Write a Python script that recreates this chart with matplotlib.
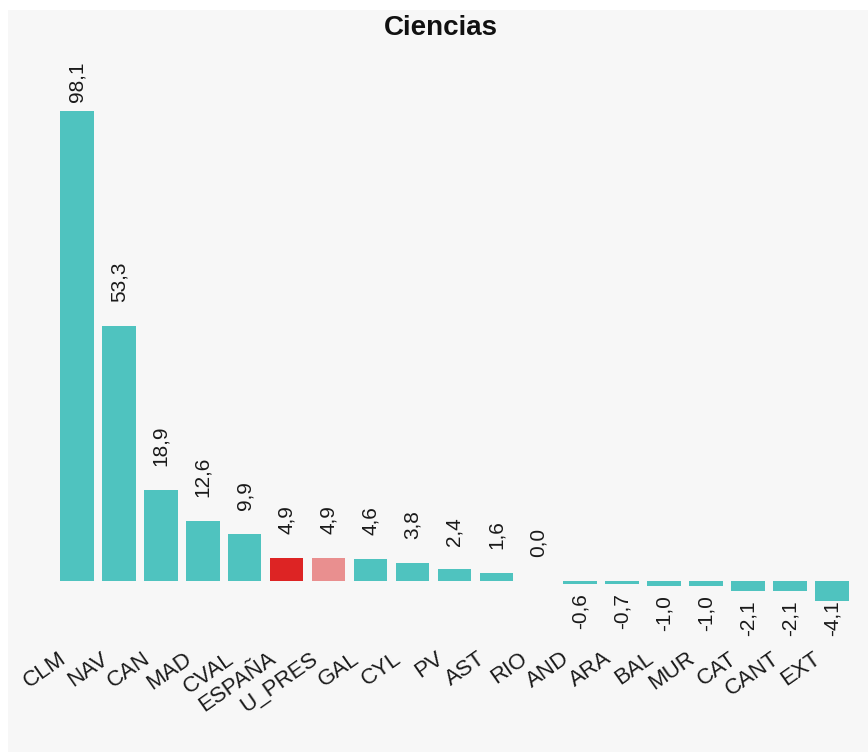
import matplotlib
matplotlib.use('Agg')
import matplotlib.pyplot as plt
from matplotlib.patches import Rectangle
from matplotlib.transforms import ScaledTranslation

plt.rcParams['font.family'] = ['Liberation Sans', 'DejaVu Sans']

regiones = ['CLM', 'NAV', 'CAN', 'MAD', 'CVAL', 'ESPAÑA', 'U_PRES', 'GAL', 'CYL', 'PV',
            'AST', 'RIO', 'AND', 'ARA', 'BAL', 'MUR', 'CAT', 'CANT', 'EXT']
valores = [98.1, 53.3, 18.9, 12.6, 9.9, 4.9, 4.9, 4.6, 3.8, 2.4,
           1.6, 0.0, -0.6, -0.7, -1.0, -1.0, -2.1, -2.1, -4.1]

teal = '#4fc3bf'
colores = []
for r in regiones:
    if r == 'ESPAÑA':
        colores.append('#dd2424')
    elif r == 'U_PRES':
        colores.append('#e98f8f')
    else:
        colores.append(teal)

W, H = 868, 752
fig = plt.figure(figsize=(W/100, H/100), dpi=100, facecolor='white')
fig.patches.append(Rectangle((8/W, 0), 1, 1 - 10/H, transform=fig.transFigure,
                             facecolor='#f7f7f7', edgecolor='none', zorder=-5))

ax_l, ax_r, ax_t, ax_b = 51.8, 857, 45, 630
ax = fig.add_axes([ax_l/W, 1 - ax_b/H, (ax_r-ax_l)/W, (ax_b-ax_t)/H])
ax.set_facecolor('none')
ax.set_zorder(2)

x = list(range(len(regiones)))
ax.bar(x, valores, width=0.8, color=colores)
ax.set_xlim(-0.6, len(regiones) - 0.4)
ymax = 98.1 + (111 - ax_t)/4.79
ymin = -(ax_b - 581)/4.79
ax.set_ylim(ymin, ymax)

for i, v in enumerate(valores):
    txt = ('%.1f' % v).replace('.', ',')
    if v >= 0:
        ax.text(i, min(v + 5.0, 100.0), txt, rotation=90, ha='center', va='bottom',
                fontsize=15, color='#1a1a1a')
    else:
        ax.text(i, max(v - 1.9, -4.0), txt, rotation=90, ha='center', va='top',
                fontsize=15, color='#1a1a1a')

ax.set_xticks(x)
ax.set_xticklabels(regiones, rotation=35, ha='right', rotation_mode='anchor',
                   fontsize=16, color='#1a1a1a', va='top')
ax.tick_params(axis='x', length=0, pad=13)
for lab in ax.get_xticklabels():
    lab.set_transform(lab.get_transform() + ScaledTranslation(-19/100, 0, fig.dpi_scale_trans))
ax.set_yticks([])
for s in ax.spines.values():
    s.set_visible(False)

fig.text(441/W, 1 - 28/H, 'Ciencias', ha='center', va='center', fontsize=20,
         fontweight='bold', color='#111111')

fig.savefig('out.png', dpi=100, facecolor='white')
